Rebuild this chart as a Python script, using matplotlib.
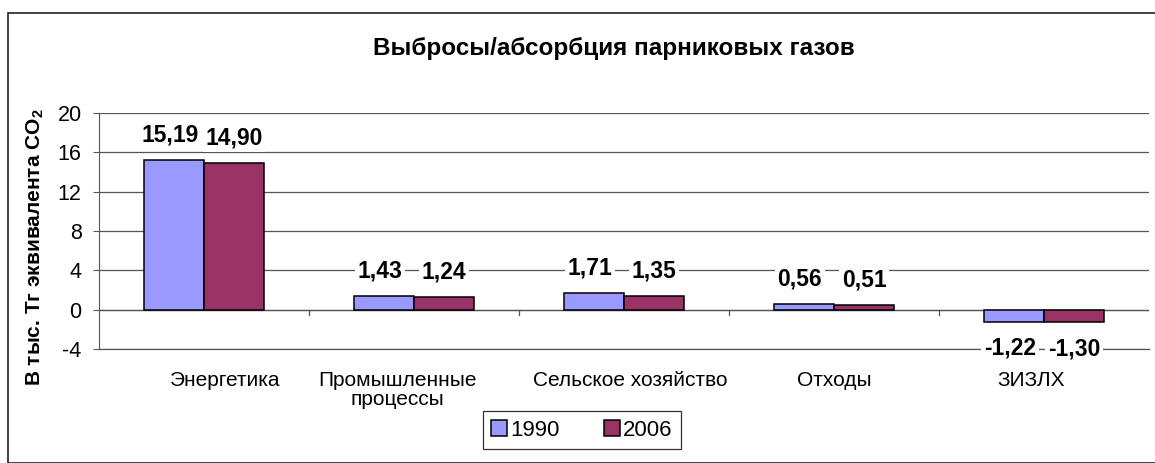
import matplotlib.pyplot as plt
import numpy as np
from matplotlib.patches import Rectangle

plt.rcParams['font.family'] = ['Liberation Sans', 'DejaVu Sans']
plt.rcParams['mathtext.fontset'] = 'custom'
plt.rcParams['mathtext.rm'] = 'Liberation Sans:bold'
plt.rcParams['mathtext.bf'] = 'Liberation Sans:bold'
plt.rcParams['axes.unicode_minus'] = False

# Data
categories = ['Энергетика', 'Промышленные\nпроцессы', 'Сельское хозяйство', 'Отходы', 'ЗИЗЛХ']
years = ['1990', '2006']
values_1990 = [15.19, 1.43, 1.71, 0.56, -1.22]
values_2006 = [14.90, 1.24, 1.35, 0.51, -1.30]
y_ticks = [-4, 0, 4, 8, 12, 16, 20]

colors = ['#9999FF', '#993366']
label_shift = [0.1, -0.08, 0.03, 0.0, -0.06]
grid_c = '#555555'

fig = plt.figure(figsize=(11.55, 4.63), dpi=100)
ax = fig.add_axes([99 / 1155, 114 / 463, 1050 / 1155, 236 / 463])

# outer chart frame
fig.patches.append(Rectangle((8 / 1155, 0), 1.2, 1 - 13 / 463, transform=fig.transFigure,
                             fill=False, edgecolor='#222222', linewidth=1.2, clip_on=False))

x = np.arange(len(categories))
w = 60 / 210
bars1 = ax.bar(x - w / 2, values_1990, w, color=colors[0], edgecolor='black', linewidth=1.1,
               label=years[0], zorder=3)
bars2 = ax.bar(x + w / 2, values_2006, w, color=colors[1], edgecolor='black', linewidth=1.1,
               label=years[1], zorder=3)

for k, bars in enumerate((bars1, bars2)):
    for b in bars:
        v = b.get_height()
        xc = b.get_x() + b.get_width() / 2
        off = 18 if v >= 0 else -19
        ax.annotate(f'{v:.2f}'.replace('.', ','), (xc, v), xytext=(-3 if k == 0 else 0, off),
                    textcoords='offset points', ha='center', va='center',
                    fontsize=16.5, fontweight='bold', zorder=5, annotation_clip=False,
                    bbox=dict(boxstyle='square,pad=0.12', fc='white', ec='none'))

ax.set_xlim(-0.5, len(categories) - 0.5)
ax.set_ylim(-4, 20)
ax.set_yticks(y_ticks)
ax.tick_params(axis='y', labelsize=15.5, length=4.5, color=grid_c, pad=8)
ax.yaxis.grid(True, color=grid_c, linewidth=0.9, zorder=0)
ax.axhline(-4, color=grid_c, linewidth=0.9, zorder=0, clip_on=False)
ax.set_axisbelow(True)

for s in ['top', 'right', 'bottom']:
    ax.spines[s].set_visible(False)
ax.spines['left'].set_color(grid_c)

# category axis at zero with ticks between groups
ax.set_xticks([])
ax.axhline(0, color=grid_c, linewidth=0.9, zorder=2)
for xb in np.arange(0.5, len(categories) - 0.5, 1):
    ax.plot([xb, xb], [0, -0.55], color=grid_c, linewidth=0.9, zorder=2, clip_on=False)

for i, c in enumerate(categories):
    ax.text(i + label_shift[i], -0.095, c, transform=ax.get_xaxis_transform(),
            ha='center', va='top', fontsize=15, linespacing=1.0)

ax.set_ylabel('В тыс. Тг эквивалента CO$_2$', fontsize=15, fontweight='bold')
ax.yaxis.set_label_coords(-0.05, 0.43)

fig.text(614 / 1155, 1 - 48 / 463, 'Выбросы/абсорбция парниковых газов', ha='center', va='center',
         fontsize=17.5, fontweight='bold')

leg = ax.legend(loc='center', bbox_to_anchor=(582 / 1155, 1 - 430 / 463), bbox_transform=fig.transFigure,
                ncol=2, fontsize=16, frameon=True, fancybox=False, handlelength=0.7, handleheight=0.7,
                handletextpad=0.15, columnspacing=2.0, borderpad=0.4, borderaxespad=0)
leg.get_frame().set_edgecolor('black')
leg.get_frame().set_linewidth(0.9)

fig.savefig('out.png', dpi=100)
